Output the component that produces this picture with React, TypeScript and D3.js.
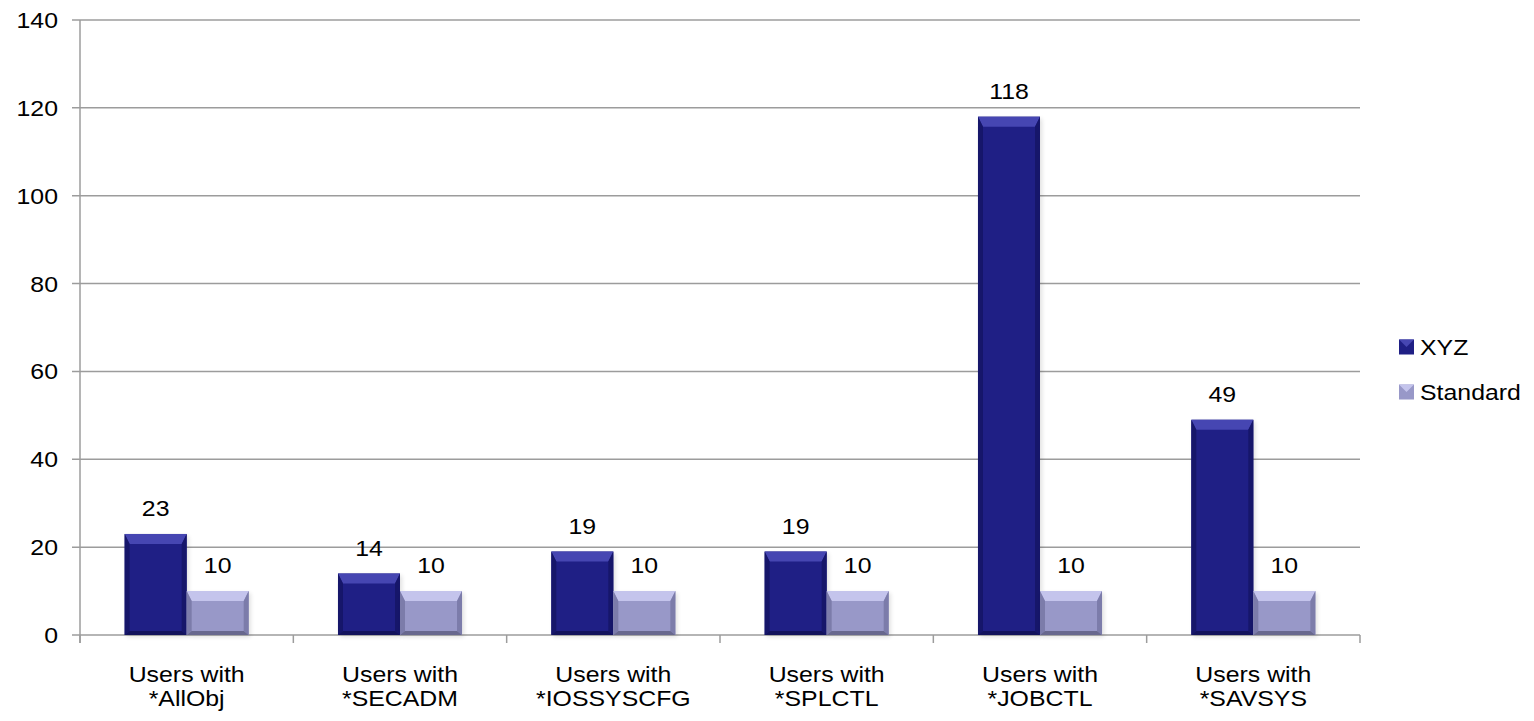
import React from "react";
import * as d3 from "d3";

const categories = ["Users with\n*AllObj", "Users with\n*SECADM", "Users with\n*IOSSYSCFG", "Users with\n*SPLCTL", "Users with\n*JOBCTL", "Users with\n*SAVSYS"];
const seriesNames = ["XYZ", "Standard"];
const xyzValues = [23, 14, 19, 19, 118, 49];
const standardValues = [10, 10, 10, 10, 10, 10];
const yTicks = [0, 20, 40, 60, 80, 100, 120, 140];

const W = 1534, H = 721;
const M = { left: 80, right: 1360, top: 20, bottom: 635 };
const FONT = "'Liberation Sans', Arial, sans-serif";
const SX = 1.13;

const palettes: Record<string, { face: string; top: string; side: string; bottom: string }> = {
  XYZ: { face: "#1f1f85", top: "#4646b2", side: "#16166a", bottom: "#12125c" },
  Standard: { face: "#9898c8", top: "#c4c4ec", side: "#7c7caa", bottom: "#68688e" },
};

function Txt({ x, y, anchor, children }: { x: number; y: number; anchor: string; children: React.ReactNode }) {
  return (
    <text transform={`translate(${x},${y}) scale(${SX},1)`} textAnchor={anchor as any} fontFamily={FONT} fontSize={22} fill="#000">
      {children}
    </text>
  );
}

function Bar({ x, y, w, h, name }: { x: number; y: number; w: number; h: number; name: string }) {
  const p = palettes[name];
  const bt = Math.min(10, h / 2), bs = 5, bb = Math.min(4, h / 4);
  const x2 = x + w, y2 = y + h;
  return (
    <g>
      <rect x={x + 2} y={y + 2} width={w} height={h} fill="#000" opacity={0.12} filter="url(#blur)" />
      <rect x={x} y={y} width={w} height={h} fill={p.face} />
      <polygon points={`${x},${y} ${x2},${y} ${x2 - bs},${y + bt} ${x + bs},${y + bt}`} fill={p.top} />
      <polygon points={`${x},${y} ${x + bs},${y + bt} ${x + bs},${y2 - bb} ${x},${y2}`} fill={p.side} />
      <polygon points={`${x2},${y} ${x2 - bs},${y + bt} ${x2 - bs},${y2 - bb} ${x2},${y2}`} fill={p.side} />
      <polygon points={`${x},${y2} ${x + bs},${y2 - bb} ${x2 - bs},${y2 - bb} ${x2},${y2}`} fill={p.bottom} />
    </g>
  );
}

export default function App() {
  const y = d3.scaleLinear().domain([0, 140]).range([M.bottom, M.top]);
  const x0 = d3.scaleBand<string>().domain(categories).range([M.left, M.right]).padding(0);
  const x1 = d3.scaleBand<string>().domain(seriesNames).range([0, x0.bandwidth()]).paddingInner(0).paddingOuter(0.72);
  const values: Record<string, number[]> = { XYZ: xyzValues, Standard: standardValues };
  const grid = "#9c9c9c";

  return (
    <svg width={W} height={H} style={{ position: "absolute", left: 0, top: 0 }}>
      <defs>
        <filter id="blur" x="-20%" y="-20%" width="140%" height="140%">
          <feGaussianBlur stdDeviation="2" />
        </filter>
      </defs>
      <rect width={W} height={H} fill="#fff" />
      {yTicks.map((t) => (
        <g key={t}>
          <line x1={M.left - 8} x2={M.right} y1={y(t)} y2={y(t)} stroke={grid} strokeWidth={1.5} />
          <Txt x={M.left - 22} y={y(t) + 8} anchor="end">{t}</Txt>
        </g>
      ))}
      <line x1={M.left} x2={M.left} y1={M.top} y2={M.bottom + 8} stroke={grid} strokeWidth={1.5} />
      {[...categories.map((c) => x0(c)!), M.right].map((bx, i) => (
        <line key={i} x1={bx} x2={bx} y1={M.bottom} y2={M.bottom + 8} stroke={grid} strokeWidth={1.5} />
      ))}
      {categories.map((c, ci) => (
        <g key={c}>
          {seriesNames.map((s) => {
            const v = values[s][ci];
            const bx = x0(c)! + x1(s)!;
            const by = y(v);
            return (
              <g key={s}>
                <Bar x={bx} y={by} w={x1.bandwidth()} h={M.bottom - by} name={s} />
                <Txt x={bx + x1.bandwidth() / 2} y={by - 18} anchor="middle">{v}</Txt>
              </g>
            );
          })}
          {c.split("\n").map((line, li) => (
            <Txt key={li} x={x0(c)! + x0.bandwidth() / 2} y={682 + li * 24} anchor="middle">{line}</Txt>
          ))}
        </g>
      ))}
      {seriesNames.map((s, i) => {
        const cy = 347 + i * 45;
        const p = palettes[s];
        return (
          <g key={s}>
            <rect x={1399} y={cy - 7.5} width={15} height={15} fill={p.face} />
            <polygon points={`${1399},${cy - 7.5} ${1414},${cy - 7.5} ${1406.5},${cy}`} fill={p.top} />
            <Txt x={1420} y={cy + 8} anchor="start">{s}</Txt>
          </g>
        );
      })}
    </svg>
  );
}
